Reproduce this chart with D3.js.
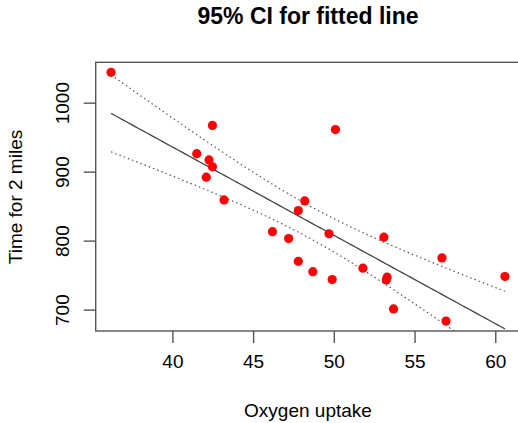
<!DOCTYPE html>
<html>
<head>
<meta charset="utf-8">
<script src="https://cdn.jsdelivr.net/npm/d3@7"></script>
<style>
  body { margin: 0; background: #fff; }
  svg text { font-family: "Liberation Sans", Arial, Helvetica, sans-serif; fill: #000; }
</style>
</head>
<body>
<div id="container"></div>
<script>
// oxygen uptake vs time for 2 miles
const oxygen = [36.2, 42.48, 41.51, 42.27, 42.48, 42.1, 43.2, 50.1, 48.2, 47.8, 46.2, 47.2,
  49.7, 53.1, 56.7, 60.6, 47.8, 48.7, 49.9, 51.8, 53.3, 53.25, 53.7, 56.95];
const time2mi = [1044, 967, 926, 917, 907, 892, 859, 961, 857.5, 843.5, 813, 803,
  810, 805, 775, 748, 770, 755, 743.5, 760, 747, 743, 701, 683.5];
const xTicks = [40, 45, 50, 55, 60],
  yTicks = [700, 800, 900, 1000];
const tCrit = 2.074; // qt(0.975, df = 22)

const width = 518, height = 423,
  plot = { left: 95.7, right: 521.1, top: 62.3, bottom: 331 };

const svg = d3.select('#container')
  .append('svg')
    .attr('width', width)
    .attr('height', height);

const x = d3.scaleLinear().domain([35.25, 61.6]).range([plot.left, plot.right]),
  y = d3.scaleLinear().domain([669, 1058.5]).range([plot.bottom, plot.top]);

// least squares fit + confidence band
const n = oxygen.length,
  mx = d3.mean(oxygen),
  my = d3.mean(time2mi),
  sxx = d3.sum(oxygen, d => (d - mx) * (d - mx)),
  sxy = d3.sum(oxygen, (d, i) => (d - mx) * (time2mi[i] - my)),
  slope = sxy / sxx,
  icpt = my - slope * mx,
  rss = d3.sum(oxygen, (d, i) => Math.pow(time2mi[i] - (icpt + slope * d), 2)),
  se = Math.sqrt(rss / (n - 2));

const [xlo, xhi] = d3.extent(oxygen);
const grid = d3.range(0, 101).map(k => xlo + (xhi - xlo) * k / 100);
const band = grid.map(v => {
  const fit = icpt + slope * v,
    hw = tCrit * se * Math.sqrt(1 / n + (v - mx) * (v - mx) / sxx);
  return { x: v, fit: fit, lo: fit - hw, hi: fit + hw };
});

svg.append('clipPath')
  .attr('id', 'clip')
  .append('rect')
    .attr('x', plot.left)
    .attr('y', plot.top)
    .attr('width', plot.right - plot.left)
    .attr('height', plot.bottom - plot.top);

const g = svg.append('g').attr('clip-path', 'url(#clip)');

const line = key => d3.line().x(d => x(d.x)).y(d => y(d[key]));

g.append('path')
  .datum(band)
  .attr('d', line('fit'))
  .attr('fill', 'none')
  .attr('stroke', '#444')
  .attr('stroke-width', 1.3);

['lo', 'hi'].forEach(k => {
  g.append('path')
    .datum(band)
    .attr('d', line(k))
    .attr('fill', 'none')
    .attr('stroke', '#555')
    .attr('stroke-width', 1.2)
    .attr('stroke-dasharray', '1.5,3');
});

g.selectAll('circle')
  .data(oxygen)
  .enter()
  .append('circle')
    .attr('cx', d => x(d))
    .attr('cy', (d, i) => y(time2mi[i]))
    .attr('r', 4.6)
    .attr('fill', '#ff0000');

// box
svg.append('rect')
  .attr('x', plot.left)
  .attr('y', plot.top)
  .attr('width', plot.right - plot.left)
  .attr('height', plot.bottom - plot.top)
  .attr('fill', 'none')
  .attr('stroke', '#555')
  .attr('stroke-width', 1.4);

// axes
const xAxis = svg.append('g')
  .attr('transform', `translate(0,${plot.bottom})`)
  .call(d3.axisBottom(x).tickValues(xTicks).tickSize(12).tickPadding(12));
xAxis.select('.domain').remove();
xAxis.selectAll('line').attr('stroke', '#555').attr('stroke-width', 1.4);
xAxis.selectAll('text').style('font-size', '19px');

const yAxis = svg.append('g')
  .attr('transform', `translate(${plot.left},0)`)
  .call(d3.axisLeft(y).tickValues(yTicks).tickFormat(d3.format('d')).tickSize(12));
yAxis.select('.domain').remove();
yAxis.selectAll('line').attr('stroke', '#555').attr('stroke-width', 1.4);
yAxis.selectAll('text')
  .style('font-size', '19px')
  .attr('text-anchor', 'middle')
  .attr('dy', 0)
  .attr('x', 0)
  .attr('transform', 'translate(-27,0) rotate(-90)');

// titles
svg.append('text')
  .attr('x', 308)
  .attr('y', 24)
  .attr('text-anchor', 'middle')
  .style('font-size', '23px')
  .style('font-weight', 'bold')
  .text('95% CI for fitted line');

svg.append('text')
  .attr('x', 308)
  .attr('y', 417)
  .attr('text-anchor', 'middle')
  .style('font-size', '19px')
  .text('Oxygen uptake');

svg.append('text')
  .attr('transform', 'translate(22,197) rotate(-90)')
  .attr('text-anchor', 'middle')
  .style('font-size', '19px')
  .text('Time for 2 miles');
</script>
</body>
</html>
